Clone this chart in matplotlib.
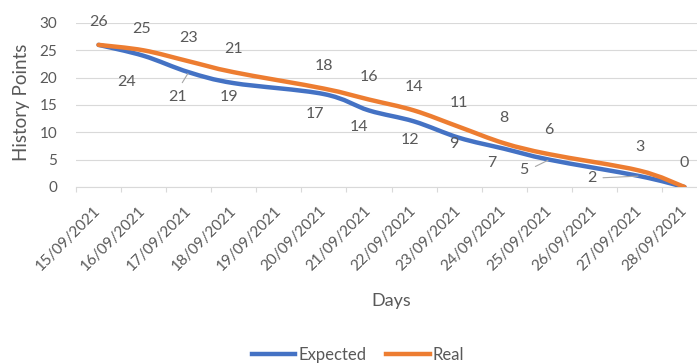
import numpy as np
import matplotlib
matplotlib.use("Agg")
import matplotlib.pyplot as plt
from matplotlib.path import Path
from matplotlib.patches import PathPatch
from matplotlib.lines import Line2D
from matplotlib.transforms import ScaledTranslation

# sprint days on the axis
days = ['15/09/2021', '16/09/2021', '17/09/2021', '18/09/2021', '19/09/2021',
        '20/09/2021', '21/09/2021', '22/09/2021', '23/09/2021', '24/09/2021',
        '25/09/2021', '26/09/2021', '27/09/2021', '28/09/2021']

# days with a recorded value (no entries on the Sundays)
logged_days = ['15/09/2021', '16/09/2021', '17/09/2021', '18/09/2021',
               '20/09/2021', '21/09/2021', '22/09/2021', '23/09/2021',
               '24/09/2021', '25/09/2021', '27/09/2021', '28/09/2021']
expected = [26, 24, 21, 19, 17, 14, 12, 9, 7, 5, 2, 0]
real = [26, 25, 23, 21, 18, 16, 14, 11, 8, 6, 3, 0]

BLUE = '#4472C4'
ORANGE = '#ED7D31'
TEXT = '#595959'
GRID = '#D9D9D9'

plt.rcParams['font.family'] = ['Lato', 'DejaVu Sans']
plt.rcParams['text.color'] = TEXT

# label offsets in pixels (dx, dy), None = no label drawn
expected_label_pos = [None, (-17, -26), (-11, -25), (-5, -14), (-9, -20),
                      (-10, -17), (-4, -19), (-5, -6), (-12, -14), (-25, -10),
                      (-48, -2), None]
real_label_pos = [(0, 23), (-2, 21), (0, 23), (0, 23), (0, 23), (0, 23),
                  (0, 23), (0, 24), (0, 25), (0, 24), (0, 24), (0, 24)]
# leader lines: index -> (relpos on the label, shrink from label in pt)
leaders = {2: ((0.5, 1.0), 4), 9: ((1.0, 0.5), 3), 10: ((1.0, 0.5), 3)}


def smooth_path(xs, ys, t=1 / 6):
    pts = np.column_stack([xs, ys]).astype(float)
    n = len(pts)
    verts = [pts[0]]
    codes = [Path.MOVETO]
    for i in range(n - 1):
        p0 = pts[max(i - 1, 0)]
        p1 = pts[i]
        p2 = pts[i + 1]
        p3 = pts[min(i + 2, n - 1)]
        verts += [p1 + (p2 - p0) * t, p2 - (p3 - p1) * t, p2]
        codes += [Path.CURVE4] * 3
    return Path(verts, codes)


fig = plt.figure(figsize=(6.97, 3.63), dpi=100)
ax = fig.add_axes([76 / 697, 176 / 363, 631 / 697, 164 / 363])

x = [days.index(d) for d in logged_days]

for series, color in ((expected, BLUE), (real, ORANGE)):
    ax.add_patch(PathPatch(smooth_path(x, series), fill=False, edgecolor=color,
                           lw=3.2, capstyle='round', joinstyle='round', zorder=3))

for xi, v, pos in zip(x, real, real_label_pos):
    ax.annotate(str(v), (xi, v), xytext=pos, textcoords='offset pixels',
                ha='center', va='center', fontsize=11.5, color=TEXT)

for i, (xi, v, pos) in enumerate(zip(x, expected, expected_label_pos)):
    if pos is None:
        continue
    arrow = None
    if i in leaders:
        relpos, shrink = leaders[i]
        arrow = dict(arrowstyle='-', color='#A6A6A6', lw=0.8,
                     relpos=relpos, shrinkA=shrink, shrinkB=1)
    ax.annotate(str(v), (xi, v), xytext=pos, textcoords='offset pixels',
                ha='center', va='center', fontsize=11.5, color=TEXT,
                arrowprops=arrow)

ax.set_xlim(-0.5, len(days) - 0.5)
ax.set_ylim(0, 30)
ax.set_yticks(range(0, 31, 5))
ax.yaxis.grid(True, color=GRID, lw=0.8)
ax.set_axisbelow(True)
for side in ('top', 'left', 'right'):
    ax.spines[side].set_visible(False)
ax.spines['bottom'].set_color(GRID)
ax.spines['bottom'].set_linewidth(0.8)

ax.set_xticks(range(len(days)))
ax.set_xticks(np.arange(-0.5, len(days), 1), minor=True)
ax.set_xticklabels(days, rotation=45, ha='right', va='center',
                   rotation_mode='anchor', fontsize=11, color=TEXT)
shift = ScaledTranslation(3 / 72, 0, fig.dpi_scale_trans)
for lbl in ax.get_xticklabels():
    lbl.set_transform(lbl.get_transform() + shift)
ax.tick_params(axis='x', which='major', length=0, pad=15.5)
ax.tick_params(axis='x', which='minor', length=3.6, color=GRID, width=0.8)
ax.tick_params(axis='y', length=0, pad=13.5, labelsize=11, labelcolor=TEXT)

ax.set_xlabel('Days', fontsize=13, color=TEXT, va='center')
ax.xaxis.set_label_coords(0.5, (187 - 301) / 164)
ax.set_ylabel('History Points', fontsize=13.5, color=TEXT, va='center')
ax.yaxis.set_label_coords(-54 / 631, (187 - 102) / 164)

handles = [Line2D([], [], color=BLUE, lw=3.2), Line2D([], [], color=ORANGE, lw=3.2)]
fig.legend(handles, ['Expected', 'Real'], loc='center',
           bbox_to_anchor=(358 / 697, 1 - 355 / 363), ncol=2, frameon=False,
           fontsize=12, handlelength=2.6, handletextpad=0.2,
           columnspacing=1.2, labelcolor=TEXT)

fig.savefig('out.png', dpi=100)
